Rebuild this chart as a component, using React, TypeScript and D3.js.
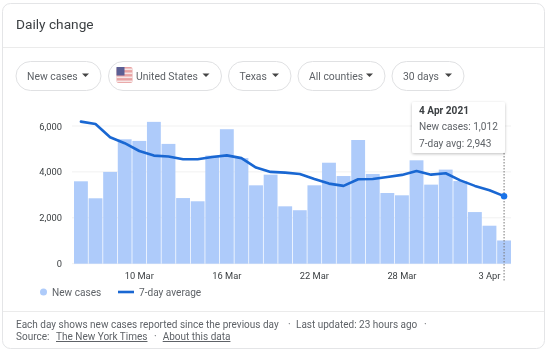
import React from "react";
import * as d3 from "d3";

const newCases = [3590, 2850, 4000, 5420, 5350, 6180, 5220, 2860, 2720, 4710, 5860, 4600, 3415, 3880, 2500, 2330, 3415, 4400, 3820, 5390, 3910, 3080, 2980, 4505, 3445, 4100, 3600, 2250, 1655, 1012];
const avg7 = [6190, 6090, 5510, 5250, 4910, 4710, 4670, 4550, 4550, 4650, 4720, 4600, 4190, 4000, 3970, 3910, 3690, 3490, 3390, 3680, 3690, 3780, 3870, 4040, 3880, 3940, 3630, 3390, 3200, 2943];
const yTicks = [0, 2000, 4000, 6000];
const xTicks = [{ i: 4, label: "10 Mar" }, { i: 10, label: "16 Mar" }, { i: 16, label: "22 Mar" }, { i: 22, label: "28 Mar" }, { i: 28, label: "3 Apr" }];
const pills = [
  { label: "New cases", x: 16, w: 85, flag: false },
  { label: "United States", x: 108.5, w: 113, flag: true },
  { label: "Texas", x: 228.5, w: 62.5, flag: false },
  { label: "All counties", x: 298, w: 87, flag: false },
  { label: "30 days", x: 392, w: 72, flag: false },
];

const FONT = "Roboto, Arial, sans-serif";
const GREY = "#5f6368";

export default function App() {
  const x = d3.scaleBand<number>().domain(d3.range(newCases.length)).range([74, 511]).paddingInner(0.05).paddingOuter(0);
  const y = d3.scaleLinear().domain([0, 6000]).range([263.7, 126]);
  const cx = (i: number) => (x(i) as number) + x.bandwidth() / 2;
  const line = d3.line<number>().x((_, i) => cx(i)).y((d) => y(d)).curve(d3.curveLinear);
  const last = newCases.length - 1;
  return (
    <svg width={550} height={353} style={{ position: "absolute", left: 0, top: 0, fontFamily: FONT, filter: "blur(0.35px)" }}>
      <rect x={0} y={0} width={550} height={353} fill="#ffffff" />
      <rect x={2.5} y={3.5} width={542} height={345} rx={8} fill="#fff" stroke="#e4e5e7" />
      <text x={16} y={29} fontSize={13.7} fill="#3c4043">Daily change</text>
      <line x1={3} x2={544} y1={47.5} y2={47.5} stroke="#ebebeb" />
      {pills.map((p) => (
        <g key={p.label}>
          <rect x={p.x} y={61.5} width={p.w} height={29} rx={14.5} fill="#fff" stroke="#e0e1e3" />
          {p.flag && (
            <g>
              <rect x={p.x + 8} y={67} width={16} height={16} rx={2} fill="#e9a3a3" />
              {d3.range(4).map((k) => (
                <rect key={k} x={p.x + 8} y={68.5 + k * 4} width={16} height={1.6} fill="#f6e6e6" />
              ))}
              <rect x={p.x + 8} y={67} width={8} height={8.5} fill="#5c5f94" />
            </g>
          )}
          <text x={p.x + (p.flag ? 27.5 : 11)} y={79.5} fontSize={10.4} fill={GREY}>{p.label}</text>
          <path d={`M${p.x + p.w - 19} 73.5h7l-3.5 3.5z`} fill="#444" />
        </g>
      ))}
      {yTicks.map((t) => (
        <g key={t}>
          <line x1={72} x2={511} y1={y(t)} y2={y(t)} stroke="#f1f1f1" />
          <text x={62} y={y(t) + 3.5} fontSize={9.3} textAnchor="end" fill="#3c4043">{d3.format(",")(t)}</text>
        </g>
      ))}
      {newCases.map((v, i) => (
        <rect key={i} x={x(i)} y={y(v)} width={x.bandwidth()} height={y(0) - y(v)} fill="#aecbfa" />
      ))}
      {xTicks.map((t) => (
        <text key={t.label} x={cx(t.i)} y={279} fontSize={9.3} textAnchor="middle" fill="#3c4043">{t.label}</text>
      ))}
      <line x1={cx(last)} x2={cx(last)} y1={153} y2={281} stroke="#777" strokeDasharray="1.5 1.5" />
      <path d={line(avg7) ?? ""} fill="none" stroke="#1967d2" strokeWidth={2.6} strokeLinejoin="round" strokeLinecap="round" />
      <circle cx={cx(last)} cy={y(avg7[last])} r={3.2} fill="#1a73e8" />
      <circle cx={43.5} cy={292} r={3.5} fill="#aecbfa" />
      <text x={52} y={295.5} fontSize={10.1} fill={GREY}>New cases</text>
      <line x1={118} x2={134} y1={292} y2={292} stroke="#1967d2" strokeWidth={2.6} />
      <text x={139} y={295.5} fontSize={10.1} fill={GREY}>7-day average</text>
      <defs>
        <filter id="tipShadow" x="-10%" y="-10%" width="120%" height="130%">
          <feDropShadow dx={0} dy={1} stdDeviation={1.5} floodColor="#000" floodOpacity={0.25} />
        </filter>
      </defs>
      <rect x={412} y={102} width={93} height={51} rx={2} fill="#fff" filter="url(#tipShadow)" />
      <text x={419} y={114} fontSize={10.1} fontWeight={700} fill="#3c4043">4 Apr 2021</text>
      <text x={419} y={130} fontSize={10.1} fill={GREY}>New cases: {d3.format(",")(newCases[last])}</text>
      <text x={419} y={147} fontSize={10.1} fill={GREY}>7-day avg: {d3.format(",")(avg7[last])}</text>
      <line x1={3} x2={544} y1={311.5} y2={311.5} stroke="#ebebeb" />
      <text x={16} y={328} fontSize={10} fill={GREY}>Each day shows new cases reported since the previous day</text>
      <text x={288} y={328} fontSize={10} fill={GREY}>·</text>
      <text x={296} y={328} fontSize={10} fill={GREY}>Last updated: 23 hours ago</text>
      <text x={424} y={328} fontSize={10} fill={GREY}>·</text>
      <text x={16} y={340} fontSize={10} fill={GREY}>Source:</text>
      <text x={56} y={340} fontSize={10} fill={GREY} textDecoration="underline">The New York Times</text>
      <text x={154} y={340} fontSize={10} fill={GREY}>·</text>
      <text x={162.7} y={340} fontSize={10} fill={GREY} textDecoration="underline">About this data</text>
    </svg>
  );
}
